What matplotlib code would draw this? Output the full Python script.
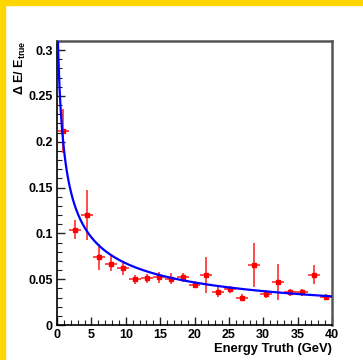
import numpy as np
import matplotlib
matplotlib.use("Agg")
import matplotlib.pyplot as plt
from matplotlib.patches import Rectangle
from matplotlib.ticker import MultipleLocator

# binned resolution points (23 bins over 0-40 GeV)
n_bins = 23
e_max = 40.0
res = [0.212, 0.104, 0.120, 0.074, 0.067, 0.062, 0.050, 0.051, 0.052, 0.0505, 0.052, 0.044,
       0.0545, 0.0357, 0.039, 0.030, 0.0655, 0.034, 0.047, 0.0357, 0.0357, 0.055, 0.0305]
res_err = [0.024, 0.0105, 0.027, 0.0145, 0.0083, 0.0078, 0.005, 0.005, 0.006, 0.006, 0.005, 0.004,
           0.0196, 0.0055, 0.004, 0.004, 0.0245, 0.004, 0.0193, 0.004, 0.004, 0.010, 0.003]

# fit: a / sqrt(E + d) + b
fit_a, fit_d, fit_b = 0.237, 0.43, -0.006

plt.rcParams['font.family'] = ['Liberation Sans', 'DejaVu Sans']
plt.rcParams['font.weight'] = 'bold'
plt.rcParams['mathtext.default'] = 'regular'

bw = e_max / n_bins
centers = (np.arange(n_bins) + 0.5) * bw

fig = plt.figure(figsize=(3.63, 3.60), dpi=100)
fig.patch.set_facecolor('white')
ax = fig.add_axes([57 / 363, 1 - 325 / 360, 275 / 363, 284 / 360])

# yellow frame edges (top and left)
fig.patches.append(Rectangle((0, 0), 5 / 363, 1, transform=fig.transFigure,
                             color='#ffd600', zorder=-1))
fig.patches.append(Rectangle((0, 1 - 5 / 360), 1, 5 / 360, transform=fig.transFigure,
                             color='#ffd600', zorder=-1))

ax.errorbar(centers, res, xerr=bw / 2, yerr=res_err, fmt='s', color='red',
            ecolor=(1, 0, 0, 0.7), elinewidth=1.4, markersize=3, capsize=0, zorder=3)

xf = np.linspace(0.01, e_max, 800)
ax.plot(xf, fit_a / np.sqrt(xf + fit_d) + fit_b, color='blue', lw=1.6, zorder=4)

ax.set_xlim(0, 40)
ax.set_ylim(0, 0.31)
ax.xaxis.set_minor_locator(MultipleLocator(1))
ax.yaxis.set_minor_locator(MultipleLocator(0.01))
ax.set_yticks([0, 0.05, 0.1, 0.15, 0.2, 0.25, 0.3])
ax.set_yticklabels(['0', '0.05', '0.1', '0.15', '0.2', '0.25', '0.3'])
ax.set_xticks(range(0, 41, 5))
ax.set_xticklabels([str(v) for v in range(0, 41, 5)])

ax.tick_params(which='both', direction='in', top=False, right=False, labelsize=9)
ax.tick_params(which='major', length=6, width=1, pad=3, color='#222222')
ax.tick_params(which='minor', length=3.5, width=0.8, color='#222222')

for side in ['left', 'bottom']:
    ax.spines[side].set_color('black')
    ax.spines[side].set_linewidth(1.2)
for side in ['top', 'right']:
    ax.spines[side].set_color('#555555')
    ax.spines[side].set_linewidth(1.8)

ax.set_xlabel('Energy Truth (GeV)', fontsize=9.4, fontweight='bold', loc='right', labelpad=1)
ax.set_ylabel('Δ E/ E$_{true}$', fontsize=9, fontweight='bold', loc='top')
ax.yaxis.set_label_coords(-0.105, 1.0)

fig.savefig('out.png', dpi=100)
